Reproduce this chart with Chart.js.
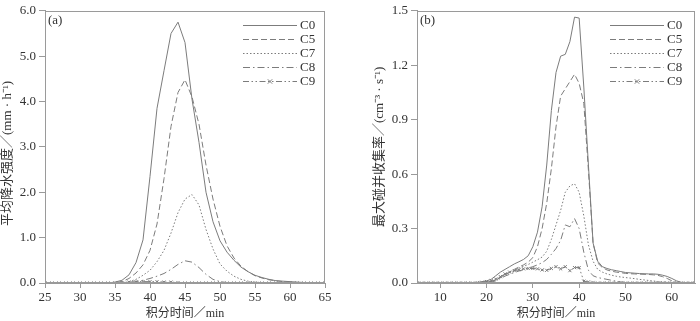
<!DOCTYPE html>
<html>
<head>
<meta charset="utf-8">
<script src="https://cdn.jsdelivr.net/npm/chart.js@4.4.1/dist/chart.umd.min.js"></script>
<style>
  html, body { margin: 0; padding: 0; background: #fff; }
  #wrap { position: relative; width: 700px; height: 321px; }
  .panel { position: absolute; top: 0; width: 350px; height: 321px; }
</style>
</head>
<body>
<div id="wrap">
  <div class="panel" style="left:0"><canvas id="chartA" width="350" height="321"></canvas></div>
  <div class="panel" style="left:350px"><canvas id="chartB" width="350" height="321"></canvas></div>
</div>
<script>
// ---- data (a): 平均降水强度 ----
const timesA = [25,26,27,28,29,30,31,32,33,34,35,36,37,38,39,40,41,42,43,44,45,46,47,48,49,50,51,52,53,54,55,56,57,58,59,60,61,62,63,64,65];
const a_C0 = [0,0,0,0,0,0,0,0,0,0, 0.02,0.06,0.18,0.45,0.95,2.35,3.85,4.68,5.5,5.75,5.3,4.05,3.1,2.0,1.35,0.93,0.68,0.5,0.35,0.25,0.17,0.12,0.08,0.05,0.04,0.03,0.02,0.01,0.005,0,0];
const a_C5 = [0,0,0,0,0,0,0,0,0,0, 0.01,0.03,0.1,0.22,0.4,0.72,1.3,2.3,3.45,4.2,4.48,4.1,3.5,2.6,1.85,1.25,0.82,0.55,0.37,0.25,0.16,0.11,0.07,0.05,0.03,0.02,0.01,0,0,0,0];
const a_C7 = [0,0,0,0,0,0,0,0,0,0,0,0, 0.03,0.08,0.17,0.28,0.47,0.72,1.1,1.55,1.85,1.95,1.72,1.18,0.75,0.42,0.26,0.15,0.08,0.04,0.02,0.01, 0,0,0,0,0,0,0,0,0];
const a_C8 = [0,0,0,0,0,0,0,0,0,0,0,0, 0.01,0.03,0.06,0.1,0.15,0.21,0.3,0.41,0.49,0.46,0.34,0.19,0.08,0.03,0.01, 0,0,0,0,0,0,0,0,0,0,0,0,0,0];
const a_C9 = [0,0,0,0,0,0,0,0,0,0,0, 0.01,0.02,0.03,0.03,0.03,0.03,0.02,0.02,0.01, 0,0,0,0,0,0,0,0,0,0,0,0,0,0,0,0,0,0,0,0,0];
const xTicksA = [25,30,35,40,45,50,55,60,65];
const yTicksA = [0,1,2,3,4,5,6];

// ---- data (b): 最大碰并收集率 ----
const timesB = [5,6,7,8,9,10,11,12,13,14,15,16,17,18,19,20,21,22,23,24,25,26,27,28,29,30,31,32,33,34,35,36,37,38,39,40,41,42,43,44,45,46,47,48,49,50,51,52,53,54,55,56,57,58,59,60,61,62,63,64,65];
const b_C0 = [0,0,0,0,0,0,0,0,0,0,0,0,0, 0.003,0.007,0.012,0.02,0.04,0.06,0.075,0.09,0.105,0.117,0.13,0.15,0.2,0.28,0.42,0.65,0.95,1.16,1.25,1.26,1.33,1.465,1.46,1.08,0.65,0.22,0.12,0.09,0.08,0.073,0.068,0.063,0.058,0.056,0.054,0.052,0.051,0.05,0.05,0.048,0.043,0.036,0.025,0.012,0.004,0,0,0];
const b_C5 = [0,0,0,0,0,0,0,0,0,0,0,0,0,0, 0.003,0.006,0.01,0.018,0.03,0.045,0.06,0.075,0.088,0.1,0.115,0.14,0.2,0.3,0.44,0.63,0.86,1.03,1.07,1.11,1.15,1.1,0.99,0.62,0.22,0.11,0.085,0.072,0.065,0.06,0.057,0.053,0.051,0.05,0.049,0.048,0.047,0.045,0.042,0.035,0.025,0.012,0.004, 0,0,0,0];
const b_C7 = [0,0,0,0,0,0,0,0,0,0,0,0,0,0,0, 0.004,0.008,0.015,0.03,0.045,0.058,0.07,0.082,0.092,0.102,0.115,0.128,0.143,0.175,0.24,0.32,0.4,0.5,0.535,0.547,0.5,0.37,0.21,0.12,0.075,0.06,0.05,0.043,0.037,0.033,0.03,0.027,0.024,0.02,0.017,0.014,0.011,0.008,0.006,0.004,0.002, 0,0,0,0,0];
const b_C8 = [0,0,0,0,0,0,0,0,0,0,0,0,0,0,0,0, 0.005,0.012,0.025,0.038,0.048,0.058,0.066,0.074,0.082,0.09,0.1,0.112,0.13,0.158,0.19,0.235,0.32,0.31,0.355,0.3,0.17,0.07,0.04,0.03,0.025,0.02,0.015,0.01,0.006,0.003, 0,0,0,0,0,0,0,0,0,0,0,0,0,0,0];
const b_C9 = [0,0,0,0,0,0,0,0,0,0,0,0,0, 0.002,0.004,0.008,0.012,0.022,0.035,0.05,0.06,0.068,0.073,0.078,0.08,0.08,0.078,0.072,0.07,0.08,0.09,0.078,0.09,0.068,0.085,0.085,0.01,0.006,0.003, 0,0,0,0,0,0,0,0,0,0,0,0,0,0,0,0,0,0,0,0,0,0];
const xTicksB = [10,20,30,40,50,60];
const yTicksB = [0,0.3,0.6,0.9,1.2,1.5];

const seriesNames = ['C0','C5','C7','C8','C9'];

// ---- styles ----
const lineColor = '#7c7c7c';
const frameColor = '#9a9a9a';
const textColor = '#333';
const numFont = '"Liberation Serif", "Times New Roman", serif';
const titleFont = '"Liberation Serif", "Noto Sans CJK SC", serif';
const dashes = [[], [6,3], [1.5,2], [7,3,1.5,3], [6,2.5,1.5,2.5,1.5,2.5]];

function pts(times, vals) {
    return times.map(function(t, i) { return {x: t, y: vals[i]}; });
}

function crossAt(ctx, x, y, r) {
    ctx.beginPath();
    ctx.moveTo(x - r, y - r); ctx.lineTo(x + r, y + r);
    ctx.moveTo(x - r, y + r); ctx.lineTo(x + r, y - r);
    ctx.stroke();
}

// frame, panel label and line legend
const decoPlugin = {
    id: 'deco',
    afterDraw(chart, args, opt) {
        const ctx = chart.ctx, a = chart.chartArea;
        ctx.save();
        ctx.strokeStyle = frameColor;
        ctx.lineWidth = 1;
        ctx.strokeRect(Math.round(a.left) + 0.5, Math.round(a.top) + 0.5, Math.round(a.right - a.left) - 1, Math.round(a.bottom - a.top) - 1);

        ctx.fillStyle = textColor;
        ctx.font = '13px ' + numFont;
        ctx.textBaseline = 'middle';
        ctx.textAlign = 'left';
        ctx.fillText(opt.tag, a.left + 3, a.top + 10);

        chart.data.datasets.forEach(function(ds, i) {
            const y = Math.round(a.top + 14.5 + i * 13.8) + 0.5;
            const x1 = a.right - opt.legStart, x2 = a.right - opt.legEnd;
            ctx.strokeStyle = ds.borderColor;
            ctx.lineWidth = 1;
            ctx.setLineDash(ds.borderDash || []);
            ctx.beginPath(); ctx.moveTo(x1, y); ctx.lineTo(x2, y); ctx.stroke();
            ctx.setLineDash([]);
            if (ds.pointRadius > 0) crossAt(ctx, (x1 + x2) / 2, y, 2.2);
            ctx.fillStyle = textColor;
            ctx.fillText(ds.label, x2 + 3, y);
        });
        ctx.restore();
    }
};

function buildChart(id, times, series, xTicks, yTicks, xr, yr, yTitle, tag, pad, yWidth, leg) {
    const ctx = document.getElementById(id).getContext('2d');
    const datasets = series.map(function(vals, i) {
        return {
            label: seriesNames[i],
            data: pts(times, vals),
            borderColor: lineColor,
            borderWidth: 1,
            borderDash: dashes[i],
            pointRadius: i === 4 ? 2.2 : 0,
            pointStyle: 'crossRot',
            pointBorderColor: lineColor,
            pointBorderWidth: 1,
            tension: 0,
            fill: false
        };
    });
    return new Chart(ctx, {
        type: 'line',
        data: { datasets: datasets },
        plugins: [decoPlugin],
        options: {
            responsive: false,
            animation: false,
            layout: { padding: pad },
            plugins: {
                legend: { display: false },
                tooltip: { enabled: false },
                deco: { tag: tag, legStart: leg[0], legEnd: leg[1] }
            },
            scales: {
                x: {
                    type: 'linear',
                    min: xr[0], max: xr[1],
                    afterBuildTicks: function(s) { s.ticks = xTicks.map(function(v) { return {value: v}; }); },
                    afterFit: function(s) { s.height = 38; },
                    grid: { drawOnChartArea: false, drawTicks: true, tickLength: 5, color: frameColor },
                    border: { color: frameColor },
                    ticks: { color: textColor, font: { family: numFont, size: 13 }, padding: 2, maxRotation: 0 },
                    title: { display: true, text: '积分时间／min', color: textColor, font: { family: titleFont, size: 12 }, padding: { top: 0, bottom: 0 } }
                },
                y: {
                    type: 'linear',
                    min: yr[0], max: yr[1],
                    afterBuildTicks: function(s) { s.ticks = yTicks.map(function(v) { return {value: v}; }); },
                    afterFit: function(s) { s.width = yWidth; },
                    grid: { drawOnChartArea: false, drawTicks: true, tickLength: 6, color: frameColor },
                    border: { color: frameColor },
                    ticks: { color: textColor, font: { family: numFont, size: 13 }, padding: 3,
                             callback: function(v) { return Number(v).toFixed(1); } },
                    title: { display: true, text: yTitle, color: textColor, font: { family: titleFont, size: 13 }, padding: { top: 0, bottom: 0 } }
                }
            }
        }
    });
}

buildChart('chartA', timesA, [a_C0, a_C5, a_C7, a_C8, a_C9], xTicksA, yTicksA, [25, 65], [0, 6],
    '平均降水强度／(mm · h⁻¹)　', '(a)', { left: 0, right: 25, top: 4, bottom: 0 }, 45, [82, 28]);

buildChart('chartB', timesB, [b_C0, b_C5, b_C7, b_C8, b_C9], xTicksB, yTicksB, [5, 65], [0, 1.5],
    '最大碰并收集率／(cm⁻³ · s⁻¹)', '(b)', { left: 22, right: 2, top: 4, bottom: 0 }, 45, [85, 31]);
</script>
</body>
</html>
